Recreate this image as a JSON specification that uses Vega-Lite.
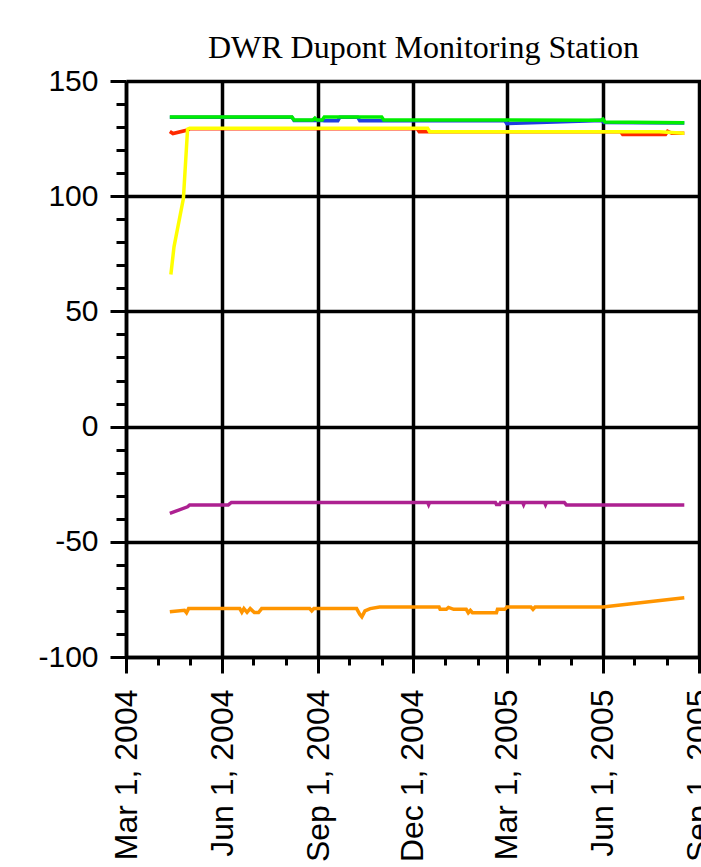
{
  "$schema": "https://vega.github.io/schema/vega-lite/v6.json",
  "autosize": {"type": "none"},
  "padding": {"left": 126, "top": 81, "right": 0, "bottom": 210},
  "width": 575,
  "height": 576,
  "background": "white",
  "title": {
    "text": "DWR Dupont Monitoring Station",
    "font": "Liberation Serif",
    "fontSize": 32,
    "fontWeight": "normal",
    "color": "black",
    "anchor": "middle",
    "dx": 10,
    "offset": 1
  },
  "config": {
    "view": {"stroke": null},
    "axis": {
      "domainColor": "black",
      "domainWidth": 3.5,
      "tickColor": "black",
      "tickWidth": 3,
      "gridColor": "black",
      "gridWidth": 3.5,
      "labelColor": "black",
      "labelFont": "Liberation Sans",
      "labelFlush": false,
      "labelOverlap": false,
      "labelBound": false,
      "title": null
    }
  },
  "data": {
    "values": [
      {"series": "B", "date": "2004/04/12", "value": 134.3},
      {"series": "B", "date": "2004/08/07", "value": 134.3},
      {"series": "B", "date": "2004/08/09", "value": 132.9},
      {"series": "B", "date": "2004/09/05", "value": 132.9},
      {"series": "B", "date": "2004/09/07", "value": 132.8},
      {"series": "B", "date": "2004/09/20", "value": 132.8},
      {"series": "B", "date": "2004/09/22", "value": 134.3},
      {"series": "B", "date": "2004/10/09", "value": 134.3},
      {"series": "B", "date": "2004/10/11", "value": 132.8},
      {"series": "B", "date": "2004/11/03", "value": 132.8},
      {"series": "B", "date": "2005/02/27", "value": 132.8},
      {"series": "B", "date": "2005/03/01", "value": 131.5},
      {"series": "B", "date": "2005/05/31", "value": 132.9},
      {"series": "B", "date": "2005/06/02", "value": 132.0},
      {"series": "B", "date": "2005/08/18", "value": 131.8},

      {"series": "G", "date": "2004/04/12", "value": 134.4},
      {"series": "G", "date": "2004/08/07", "value": 134.4},
      {"series": "G", "date": "2004/08/09", "value": 133.1},
      {"series": "G", "date": "2004/08/27", "value": 133.1},
      {"series": "G", "date": "2004/08/29", "value": 133.9},
      {"series": "G", "date": "2004/08/31", "value": 133.1},
      {"series": "G", "date": "2004/09/05", "value": 133.1},
      {"series": "G", "date": "2004/09/07", "value": 134.4},
      {"series": "G", "date": "2004/11/01", "value": 134.4},
      {"series": "G", "date": "2004/11/03", "value": 133.1},
      {"series": "G", "date": "2005/05/30", "value": 133.0},
      {"series": "G", "date": "2005/06/01", "value": 133.5},
      {"series": "G", "date": "2005/06/03", "value": 132.2},
      {"series": "G", "date": "2005/08/18", "value": 131.9},

      {"series": "R", "date": "2004/04/12", "value": 128.1},
      {"series": "R", "date": "2004/04/15", "value": 127.2},
      {"series": "R", "date": "2004/04/29", "value": 128.7},
      {"series": "R", "date": "2004/05/01", "value": 129.3},
      {"series": "R", "date": "2004/12/05", "value": 129.3},
      {"series": "R", "date": "2004/12/07", "value": 128.0},
      {"series": "R", "date": "2005/06/18", "value": 128.0},
      {"series": "R", "date": "2005/06/20", "value": 126.8},
      {"series": "R", "date": "2005/07/31", "value": 126.8},
      {"series": "R", "date": "2005/08/02", "value": 128.2},
      {"series": "R", "date": "2005/08/06", "value": 127.3},
      {"series": "R", "date": "2005/08/18", "value": 127.3},

      {"series": "Y", "date": "2004/04/13", "value": 66},
      {"series": "Y", "date": "2004/04/16", "value": 78},
      {"series": "Y", "date": "2004/04/25", "value": 99},
      {"series": "Y", "date": "2004/04/29", "value": 129.1},
      {"series": "Y", "date": "2004/05/01", "value": 129.5},
      {"series": "Y", "date": "2004/12/15", "value": 129.5},
      {"series": "Y", "date": "2004/12/17", "value": 128.0},
      {"series": "Y", "date": "2005/07/25", "value": 128.0},
      {"series": "Y", "date": "2005/08/18", "value": 127.3},

      {"series": "P", "date": "2004/04/12", "value": -37.7},
      {"series": "P", "date": "2004/04/29", "value": -34.8},
      {"series": "P", "date": "2004/05/01", "value": -34.0},
      {"series": "P", "date": "2004/06/07", "value": -34.0},
      {"series": "P", "date": "2004/06/10", "value": -32.9},
      {"series": "P", "date": "2004/12/15", "value": -32.9},
      {"series": "P", "date": "2004/12/16", "value": -33.9},
      {"series": "P", "date": "2004/12/17", "value": -32.9},
      {"series": "P", "date": "2005/02/18", "value": -32.9},
      {"series": "P", "date": "2005/02/19", "value": -33.8},
      {"series": "P", "date": "2005/02/22", "value": -33.8},
      {"series": "P", "date": "2005/02/23", "value": -32.9},
      {"series": "P", "date": "2005/03/16", "value": -32.9},
      {"series": "P", "date": "2005/03/17", "value": -33.9},
      {"series": "P", "date": "2005/03/18", "value": -32.9},
      {"series": "P", "date": "2005/04/06", "value": -32.9},
      {"series": "P", "date": "2005/04/07", "value": -33.9},
      {"series": "P", "date": "2005/04/08", "value": -32.9},
      {"series": "P", "date": "2005/04/25", "value": -32.9},
      {"series": "P", "date": "2005/04/27", "value": -34.0},
      {"series": "P", "date": "2005/08/18", "value": -34.0},

      {"series": "O", "date": "2004/04/12", "value": -80.4},
      {"series": "O", "date": "2004/04/26", "value": -79.7},
      {"series": "O", "date": "2004/04/28", "value": -80.8},
      {"series": "O", "date": "2004/04/30", "value": -79.0},
      {"series": "O", "date": "2004/06/18", "value": -79.0},
      {"series": "O", "date": "2004/06/20", "value": -80.6},
      {"series": "O", "date": "2004/06/22", "value": -79.0},
      {"series": "O", "date": "2004/06/25", "value": -80.6},
      {"series": "O", "date": "2004/06/28", "value": -79.0},
      {"series": "O", "date": "2004/07/02", "value": -80.7},
      {"series": "O", "date": "2004/07/06", "value": -80.7},
      {"series": "O", "date": "2004/07/09", "value": -79.0},
      {"series": "O", "date": "2004/08/24", "value": -79.0},
      {"series": "O", "date": "2004/08/26", "value": -80.0},
      {"series": "O", "date": "2004/08/28", "value": -79.0},
      {"series": "O", "date": "2004/10/08", "value": -79.0},
      {"series": "O", "date": "2004/10/11", "value": -81.5},
      {"series": "O", "date": "2004/10/13", "value": -82.6},
      {"series": "O", "date": "2004/10/16", "value": -80.0},
      {"series": "O", "date": "2004/10/21", "value": -79.0},
      {"series": "O", "date": "2004/10/30", "value": -78.3},
      {"series": "O", "date": "2004/12/26", "value": -78.3},
      {"series": "O", "date": "2004/12/27", "value": -79.3},
      {"series": "O", "date": "2005/01/02", "value": -79.3},
      {"series": "O", "date": "2005/01/04", "value": -78.5},
      {"series": "O", "date": "2005/01/09", "value": -79.3},
      {"series": "O", "date": "2005/01/21", "value": -79.3},
      {"series": "O", "date": "2005/01/23", "value": -80.8},
      {"series": "O", "date": "2005/01/25", "value": -79.8},
      {"series": "O", "date": "2005/01/27", "value": -80.8},
      {"series": "O", "date": "2005/02/19", "value": -80.8},
      {"series": "O", "date": "2005/02/20", "value": -79.3},
      {"series": "O", "date": "2005/02/27", "value": -79.3},
      {"series": "O", "date": "2005/03/01", "value": -78.3},
      {"series": "O", "date": "2005/03/24", "value": -78.3},
      {"series": "O", "date": "2005/03/26", "value": -79.3},
      {"series": "O", "date": "2005/03/28", "value": -78.3},
      {"series": "O", "date": "2005/06/01", "value": -78.3},
      {"series": "O", "date": "2005/08/18", "value": -74.3}
    ]
  },
  "mark": {"type": "line", "strokeWidth": 3.5, "clip": true},
  "encoding": {
    "x": {
      "field": "date",
      "type": "temporal",
      "scale": {
        "domain": [
          {"year": 2004, "month": 3, "date": 1},
          {"year": 2005, "month": 9, "date": 3}
        ]
      },
      "axis": {
        "values": [
          {"year": 2004, "month": 3, "date": 1},
          {"year": 2004, "month": 4, "date": 1},
          {"year": 2004, "month": 5, "date": 1},
          {"year": 2004, "month": 6, "date": 1},
          {"year": 2004, "month": 7, "date": 1},
          {"year": 2004, "month": 8, "date": 1},
          {"year": 2004, "month": 9, "date": 1},
          {"year": 2004, "month": 10, "date": 1},
          {"year": 2004, "month": 11, "date": 1},
          {"year": 2004, "month": 12, "date": 1},
          {"year": 2005, "month": 1, "date": 1},
          {"year": 2005, "month": 2, "date": 1},
          {"year": 2005, "month": 3, "date": 1},
          {"year": 2005, "month": 4, "date": 1},
          {"year": 2005, "month": 5, "date": 1},
          {"year": 2005, "month": 6, "date": 1},
          {"year": 2005, "month": 7, "date": 1},
          {"year": 2005, "month": 8, "date": 1},
          {"year": 2005, "month": 9, "date": 1}
        ],
        "labelExpr": "month(datum.value) % 3 == 2 ? timeFormat(datum.value, '%b %-d, %Y') : ''",
        "labelAngle": -90,
        "labelFontSize": 32,
        "labelPadding": 16,
        "gridOpacity": {"condition": {"test": "month(datum.value) % 3 == 2", "value": 1}, "value": 0},
        "tickSize": {"condition": {"test": "month(datum.value) % 3 == 2", "value": 16}, "value": 8}
      }
    },
    "y": {
      "field": "value",
      "type": "quantitative",
      "scale": {"domain": [-100, 150], "nice": false, "zero": false},
      "axis": {
        "values": [-100, -90, -80, -70, -60, -50, -40, -30, -20, -10, 0, 10, 20, 30, 40, 50, 60, 70, 80, 90, 100, 110, 120, 130, 140, 150],
        "labelExpr": "datum.value % 50 == 0 ? '' + datum.value : ''",
        "labelFontSize": 30,
        "labelPadding": 12,
        "gridOpacity": {"condition": {"test": "datum.value % 50 == 0", "value": 1}, "value": 0},
        "tickSize": {"condition": {"test": "datum.value % 50 == 0", "value": 16}, "value": 10}
      }
    },
    "color": {
      "field": "series",
      "type": "nominal",
      "scale": {
        "domain": ["B", "G", "R", "Y", "P", "O"],
        "range": ["#1f3fe0", "#00ee00", "#ff2a00", "#ffff00", "#ad2191", "#ff9500"]
      },
      "legend": null
    }
  }
}
